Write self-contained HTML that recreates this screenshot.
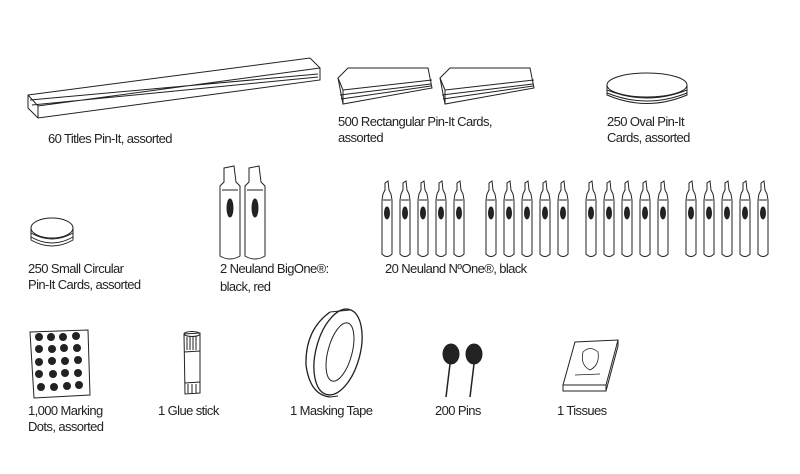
<!DOCTYPE html>
<html><head><meta charset="utf-8"><style>
body{margin:0;background:#fff;width:800px;height:474px;overflow:hidden}
svg{position:absolute;left:0;top:0}
text{font-family:"Liberation Sans",sans-serif;font-weight:normal;font-size:13px;letter-spacing:-0.6px;fill:#222;stroke:none}
</style></head><body>
<svg width="800" height="474" viewBox="0 0 800 474" fill="none" stroke="#222" stroke-width="1">
<!-- titles -->
<path d="M28 95 L310 58 L320 68 L320 80 L38 118 L28 108 Z"/>
<path d="M28 95 L38 106 L320 68 M38 106 L38 118 M30 100 L318 74 M32 105 L318 77"/>
<!-- rectangular cards -->
<g><path d="M338 78 L348 68 L428 68 L432 88 L343 104 Z"/><path d="M338 78 L343 90 L343 104 M343 90 L432 80 M340 95 L431 84 M341 99 L431 86"/></g>
<g><path d="M440 78 L450 68 L530 68 L534 88 L445 104 Z"/><path d="M440 78 L445 90 L445 104 M445 90 L534 80 M442 95 L533 84 M443 99 L533 86"/></g>
<!-- oval -->
<ellipse cx="647" cy="85" rx="40" ry="12"/>
<path d="M607 85 L607 95 Q647 112 687 95 L687 85 M607 90 Q647 106 687 90 M607 93 Q647 109 687 93"/>
<!-- small circular -->
<ellipse cx="52" cy="228" rx="21" ry="10"/>
<path d="M31 228 L31 240 Q52 252 73 240 L73 228 M31 233 Q52 245 73 233 M31 237 Q52 249 73 237"/>
<!-- BigOne -->
<g id="big"><path d="M224 168 L234 166 L236 182 L240 186 L240 256 Q230 262 220 256 L220 186 L224 182 Z M222 190 L238 190"/><ellipse cx="230" cy="208" rx="3" ry="9" fill="#222"/></g>
<use href="#big" x="25"/>
<!-- small markers -->
<defs><g id="m"><path d="M5 183 L8 181 L9 190 L11 194 L12 200 L12 254 Q7 259 2 254 L2 200 L3 194 L5 190 Z M3 200 L11 200"/><ellipse cx="7" cy="213" rx="2.5" ry="6" fill="#222"/></g></defs>
<g fill="none">
<use href="#m" x="380"/><use href="#m" x="398"/><use href="#m" x="416"/><use href="#m" x="434"/><use href="#m" x="452"/>
<use href="#m" x="484"/><use href="#m" x="502"/><use href="#m" x="520"/><use href="#m" x="538"/><use href="#m" x="556"/>
<use href="#m" x="584"/><use href="#m" x="602"/><use href="#m" x="620"/><use href="#m" x="638"/><use href="#m" x="656"/>
<use href="#m" x="684"/><use href="#m" x="702"/><use href="#m" x="720"/><use href="#m" x="738"/><use href="#m" x="756"/>
</g>
<!-- dots -->
<path d="M30 332 L88 330 L90 395 L34 398 Z"/>
<g fill="#222" stroke="none">
<circle cx="39" cy="337" r="4"/><circle cx="51" cy="337" r="4"/><circle cx="63" cy="337" r="4"/><circle cx="76" cy="336" r="4"/>
<circle cx="39" cy="349" r="4"/><circle cx="52" cy="349" r="4"/><circle cx="64" cy="348" r="4"/><circle cx="77" cy="348" r="4"/>
<circle cx="39" cy="362" r="4"/><circle cx="52" cy="361" r="4"/><circle cx="65" cy="361" r="4"/><circle cx="78" cy="360" r="4"/>
<circle cx="39" cy="374" r="4"/><circle cx="53" cy="374" r="4"/><circle cx="65" cy="373" r="4"/><circle cx="78" cy="373" r="4"/>
<circle cx="41" cy="387" r="4"/><circle cx="54" cy="387" r="4"/><circle cx="67" cy="386" r="4"/><circle cx="79" cy="385" r="4"/>
</g>
<!-- glue stick -->
<path d="M184 334 L200 333 L200 393 L185 394 Z M184 352 L200 351 M185 383 L200 382 M187 337 L187 350 M190 337 L190 350 M193 336 L193 350 M196 336 L196 350 M188 384 L188 393 M192 384 L192 393 M196 384 L196 393"/>
<ellipse cx="192" cy="334" rx="8" ry="2.5"/>
<!-- tape -->
<path d="M330 312 Q305 330 306 365 Q310 395 330 397" stroke-width="1.3"/>
<ellipse cx="338" cy="352" rx="22" ry="44" transform="rotate(15 338 352)" stroke-width="1.3"/>
<ellipse cx="340" cy="352" rx="12" ry="30" transform="rotate(15 340 352)"/>
<path d="M330 312 L350 310 M330 397 L338 396"/>
<!-- pins -->
<ellipse cx="451" cy="354" rx="8" ry="10" fill="#222"/><ellipse cx="474" cy="354" rx="8" ry="10" fill="#222"/>
<path d="M450 364 L446 397 M474 364 L470 397" stroke-width="1.5"/>
<!-- tissues -->
<path d="M563 385 L575 342 L618 340 L606 385 Z M563 385 L563 391 L606 391 L606 385 M606 391 L618 346 L618 340"/>
<path d="M583 352 Q590 345 598 352 Q600 365 590 370 Q580 365 583 352 Z M575 375 L600 374" stroke-width="0.8"/>
<text x="48" y="143">60 Titles Pin-It, assorted</text>
<text x="338" y="126">500 Rectangular Pin-It Cards,</text>
<text x="338" y="142">assorted</text>
<text x="607" y="126">250 Oval Pin-It</text>
<text x="607" y="142">Cards, assorted</text>
<text x="28" y="273">250 Small Circular</text>
<text x="28" y="289">Pin-It Cards, assorted</text>
<text x="220" y="273">2 Neuland BigOne®:</text>
<text x="220" y="291">black, red</text>
<text x="385" y="273">20 Neuland NºOne®, black</text>
<text x="28" y="415">1,000 Marking</text>
<text x="28" y="431">Dots, assorted</text>
<text x="158" y="415">1 Glue stick</text>
<text x="290" y="415">1 Masking Tape</text>
<text x="435" y="415">200 Pins</text>
<text x="557" y="415">1 Tissues</text>
</svg>
</body></html>
